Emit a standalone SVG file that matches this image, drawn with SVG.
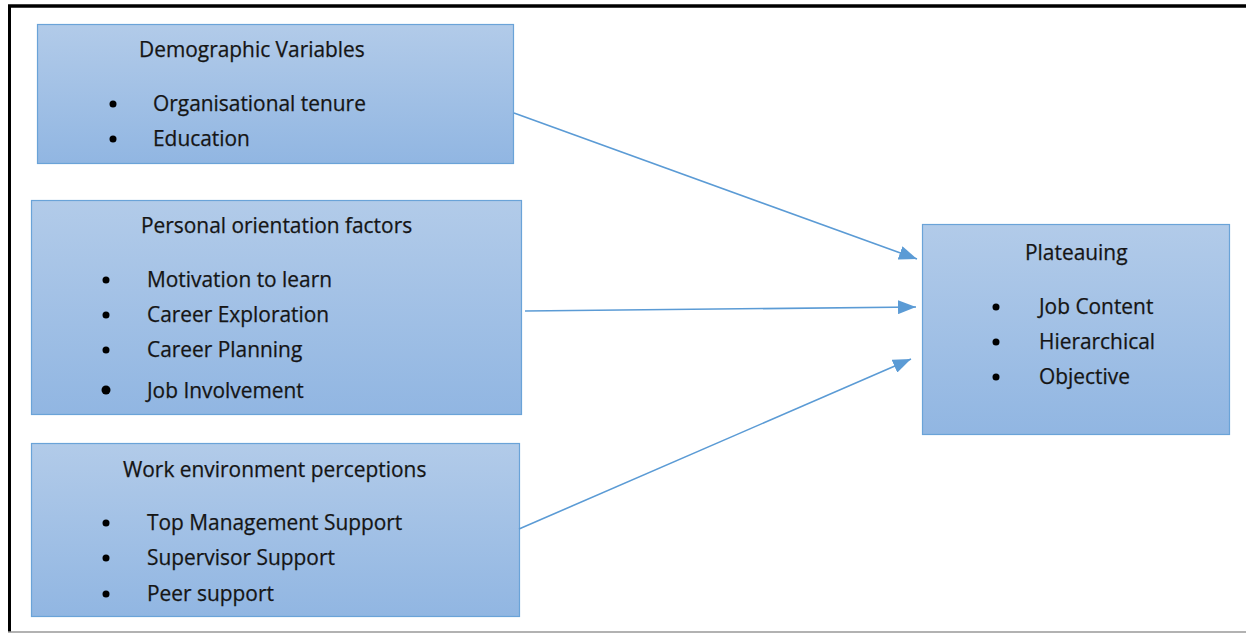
<svg xmlns="http://www.w3.org/2000/svg" width="1246" height="633" viewBox="0 0 1246 633">
<defs>
<linearGradient id="g" x1="0" y1="0" x2="0" y2="1">
<stop offset="0" stop-color="#b2cbe9"/>
<stop offset="1" stop-color="#91b6e2"/>
</linearGradient>
<marker id="ah" markerWidth="18" markerHeight="14" refX="18" refY="7" orient="auto" markerUnits="userSpaceOnUse">
<path d="M0,0 L18,7 L0,14 Z" fill="#5b9bd5"/>
</marker>
<style>
.box{fill:url(#g);stroke:#6aa3d8;stroke-width:1.2}
.t{font-family:"Open Sans","Liberation Sans",Arial,sans-serif;font-size:20.9px;fill:#151515;stroke:#151515;stroke-width:0.25}
.b{fill:#000}
.c{stroke:#5b9bd5;stroke-width:1.6;fill:none;marker-end:url(#ah)}
</style>
</defs>
<rect x="0" y="0" width="1246" height="633" fill="#fff"/>
<g id="frame">
<line x1="8" y1="6" x2="1246" y2="6" stroke="#000" stroke-width="3.5"/>
<line x1="9.5" y1="5" x2="9.5" y2="632" stroke="#000" stroke-width="3"/>
<line x1="8" y1="632" x2="1246" y2="632" stroke="#999" stroke-width="1.5"/>
</g>
<g id="demographic">
<rect class="box" x="37.5" y="24.5" width="476" height="139"/>
<text class="t" x="139" y="57">Demographic Variables</text>
<circle class="b" cx="113" cy="104" r="3.5"/>
<text class="t" x="153" y="111">Organisational tenure</text>
<circle class="b" cx="113" cy="139" r="3.5"/>
<text class="t" x="153" y="146">Education</text>
</g>
<g id="personal">
<rect class="box" x="31.5" y="200.5" width="490" height="214"/>
<text class="t" x="141" y="233">Personal orientation factors</text>
<circle class="b" cx="106" cy="280" r="3.5"/>
<text class="t" x="147" y="287">Motivation to learn</text>
<circle class="b" cx="106" cy="315" r="3.5"/>
<text class="t" x="147" y="322">Career Exploration</text>
<circle class="b" cx="106" cy="350" r="3.5"/>
<text class="t" x="147" y="357">Career Planning</text>
<circle class="b" cx="106" cy="390" r="4.5"/>
<text class="t" x="147" y="398">Job Involvement</text>
</g>
<g id="work">
<rect class="box" x="31.5" y="443.5" width="488" height="173"/>
<text class="t" x="123" y="477">Work environment perceptions</text>
<circle class="b" cx="106" cy="523" r="3.5"/>
<text class="t" x="147" y="530">Top Management Support</text>
<circle class="b" cx="106" cy="558" r="3.5"/>
<text class="t" x="147" y="565">Supervisor Support</text>
<circle class="b" cx="106" cy="594" r="3.5"/>
<text class="t" x="147" y="601">Peer support</text>
</g>
<g id="plateauing">
<rect class="box" x="922.5" y="224.5" width="307" height="210"/>
<text class="t" x="1025" y="260">Plateauing</text>
<circle class="b" cx="996" cy="307" r="3.5"/>
<text class="t" x="1039" y="314">Job Content</text>
<circle class="b" cx="996" cy="342" r="3.5"/>
<text class="t" x="1039" y="349">Hierarchical</text>
<circle class="b" cx="996" cy="377" r="3.5"/>
<text class="t" x="1039" y="384">Objective</text>
</g>
<g id="connectors">
<line class="c" x1="514" y1="113" x2="917" y2="259"/>
<line class="c" x1="525" y1="311" x2="916" y2="307"/>
<line class="c" x1="519" y1="529" x2="911" y2="359"/>
</g>
</svg>
